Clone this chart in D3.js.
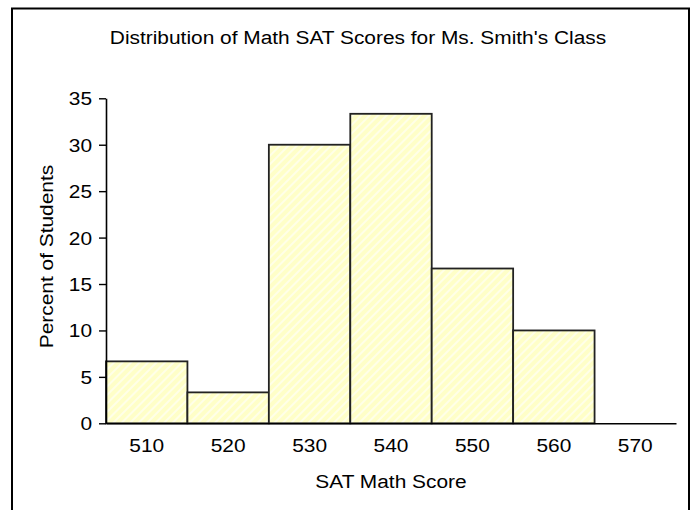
<!DOCTYPE html>
<html><head><meta charset="utf-8">
<script src="https://cdn.jsdelivr.net/npm/d3@7"></script>
<style>body{margin:0;background:#fff;} svg{display:block;} text{font-family:"Liberation Sans",Arial,sans-serif;fill:#000;}</style>
</head><body>
<script>
const categories = ["510","520","530","540","550","560","570"];
const percents = [6.67, 3.33, 30, 33.33, 16.67, 10, 0];
const yTicks = [0,5,10,15,20,25,30,35];
const title = "Distribution of Math SAT Scores for Ms. Smith's Class";
const xTitle = "SAT Math Score";
const yTitle = "Percent of Students";

const W = 696, H = 510, FS = "18px", STRETCH = 1.16;
const svg = d3.select("body").append("svg").attr("width", W).attr("height", H);

function stretch(sel) {
  sel.each(function() {
    const w = this.getComputedTextLength();
    d3.select(this).attr("textLength", w * STRETCH).attr("lengthAdjust", "spacingAndGlyphs");
  });
}

const defs = svg.append("defs");
const pat = defs.append("pattern").attr("id","hatch").attr("patternUnits","userSpaceOnUse")
  .attr("width",6).attr("height",6).attr("patternTransform","rotate(45)");
pat.append("rect").attr("width",6).attr("height",6).attr("fill","#ffffc8");
pat.append("rect").attr("width",2).attr("height",6).attr("fill","#ffffe8");

// outer frame
svg.append("rect").attr("x",12).attr("y",8.5).attr("width",677).attr("height",520)
  .attr("fill","none").attr("stroke","#000").attr("stroke-width",2);

const x0 = 106, x1 = 676, yTop = 98.3, yBot = 423.3;
const x = d3.scaleBand().domain(categories).range([x0, x1]).padding(0);
const y = d3.scaleLinear().domain([0,35]).range([yBot, yTop]);

svg.append("text").attr("x",358).attr("y",44).attr("text-anchor","middle")
  .style("font-size",FS).text(title).call(stretch);

// bars
svg.append("g").selectAll("rect").data(categories.map((c,i)=>({c,v:percents[i]})).filter(d=>d.v>0))
  .join("rect")
  .attr("x", d=>x(d.c)).attr("y", d=>y(d.v))
  .attr("width", x.bandwidth()).attr("height", d=>y(0)-y(d.v))
  .attr("fill","url(#hatch)").attr("stroke","#222").attr("stroke-width",1.8);

// y axis
const ya = svg.append("g").attr("transform",`translate(${x0},0)`)
  .call(d3.axisLeft(y).tickValues(yTicks).tickSize(7).tickPadding(7).tickSizeOuter(0));
ya.select(".domain").attr("stroke","#000").attr("stroke-width",1.6);
ya.selectAll(".tick line").attr("stroke","#000").attr("stroke-width",1.4);
ya.selectAll(".tick text").style("font-size",FS).style("font-family","'Liberation Sans',Arial,sans-serif")
  .attr("dy","0.36em").call(stretch);

// x axis
const xa = svg.append("g").attr("transform",`translate(0,${yBot})`)
  .call(d3.axisBottom(x).tickSize(0).tickPadding(16).tickSizeOuter(0));
xa.select(".domain").attr("stroke","#000").attr("stroke-width",1.6);
xa.selectAll(".tick text").style("font-size",FS).style("font-family","'Liberation Sans',Arial,sans-serif")
  .attr("dy","0.71em").call(stretch);

svg.append("text").attr("x",(x0+x1)/2).attr("y",488).attr("text-anchor","middle")
  .style("font-size",FS).text(xTitle).call(stretch);
svg.append("text").attr("transform",`translate(53,256.5) rotate(-90)`)
  .attr("text-anchor","middle").style("font-size",FS).text(yTitle).call(stretch);
</script>
</body></html>
